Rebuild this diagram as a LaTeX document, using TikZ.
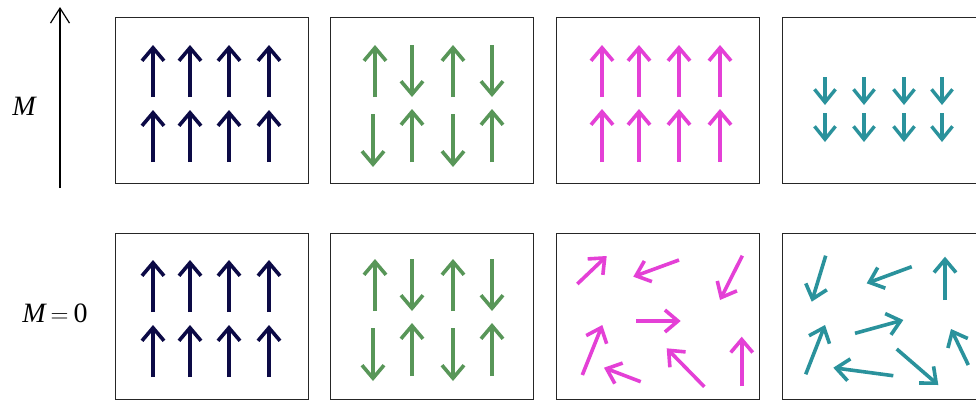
\documentclass[tikz,border=0pt]{standalone}
\usepackage{fontspec}
\setmainfont{Liberation Serif}
\usetikzlibrary{arrows.meta}
\definecolor{navy}{RGB}{12,10,70}
\definecolor{sgreen}{RGB}{88,150,88}
\definecolor{smag}{RGB}{228,64,214}
\definecolor{steal}{RGB}{42,146,156}
\tikzset{
  panel/.style={draw=black!85, line width=0.9pt},
  spin/.style={line width=3.6pt, -{Straight Barb[length=13pt,width=22pt]}},
  smallspin/.style={line width=3.4pt, -{Straight Barb[length=13pt,width=21pt]}},
  axis/.style={line width=1.2pt, -{Straight Barb[length=15pt,width=19pt]}},
  lbl/.style={inner sep=0pt, font=\fontsize{28}{32}\selectfont}
}
\begin{document}
\begin{tikzpicture}[x=1pt,y=-1pt]
\clip (0,0) rectangle (976,400);
\fill[white] (0,0) rectangle (976,400);
% axis and labels
\coordinate (ax0) at (60,188);
\coordinate (ax1) at (60,7);
\draw[axis] (ax0) -- (ax1);
\node[lbl] (M) at (24,106) {\itshape M};
\node[lbl] (M0) at (55,313) {{\itshape M}\hspace{5pt}$=$\hspace{5pt}0};
% panels
\foreach \y in {17,233} {
  \draw[panel] (115,\y) rectangle (308,\y+166);
  \draw[panel] (330,\y) rectangle (533,\y+166);
  \draw[panel] (556,\y) rectangle (759,\y+166);
  \draw[panel] (782,\y) rectangle (995,\y+166);
}
% panel 1: ferromagnet (both rows)
\foreach \s in {0,215} {
  \foreach \x in {153,190,229,269} {
    \draw[spin,navy] (\x,97+\s) -- (\x,45+\s);
    \draw[spin,navy] (\x,162+\s) -- (\x,110+\s);
  }
}
% panel 2: antiferromagnet (both rows)
\foreach \s in {0,214} {
  \draw[spin,sgreen] (375,97+\s) -- (375,45+\s);
  \draw[spin,sgreen] (412,45+\s) -- (412,97+\s);
  \draw[spin,sgreen] (453,97+\s) -- (453,45+\s);
  \draw[spin,sgreen] (492,45+\s) -- (492,97+\s);
  \draw[spin,sgreen] (373,114+\s) -- (373,167+\s);
  \draw[spin,sgreen] (412,162+\s) -- (412,109+\s);
  \draw[spin,sgreen] (453,114+\s) -- (453,167+\s);
  \draw[spin,sgreen] (492,162+\s) -- (492,109+\s);
}
% panel 3 top: aligned magenta
\foreach \x in {602,639,679,720} {
  \draw[spin,smag] (\x,97) -- (\x,45);
  \draw[spin,smag] (\x,162) -- (\x,109);
}
% panel 4 top: small teal down arrows
\foreach \x in {825,864,904,942} {
  \draw[smallspin,steal] (\x,77) -- (\x,105);
  \draw[smallspin,steal] (\x,113) -- (\x,142);
}
% panel 3 bottom: random magenta
\draw[spin,smag] (577.3,284) -- (606.7,256);
\draw[spin,smag] (679,260) -- (633.3,276.7);
\draw[spin,smag] (742.3,255.7) -- (720,300);
\draw[spin,smag] (636,321) -- (680.7,321);
\draw[spin,smag] (582.3,375) -- (602.3,325);
\draw[spin,smag] (640.7,381.7) -- (604,367.7);
\draw[spin,smag] (704.3,386.7) -- (666.7,348.3);
\draw[spin,smag] (741.7,386) -- (741.7,336.7);
% panel 4 bottom: random teal
\draw[spin,steal] (825.7,255.7) -- (811.7,301.7);
\draw[spin,steal] (911.7,266.7) -- (866.7,283.3);
\draw[spin,steal] (945,300) -- (945,256.7);
\draw[spin,steal] (855,333.3) -- (903.3,320);
\draw[spin,steal] (805.7,374.3) -- (825,325);
\draw[spin,steal] (893.3,375.7) -- (833.3,367.7);
\draw[spin,steal] (896.7,349) -- (938.3,385);
\draw[spin,steal] (968.3,365) -- (951,329);
\end{tikzpicture}
\end{document}
